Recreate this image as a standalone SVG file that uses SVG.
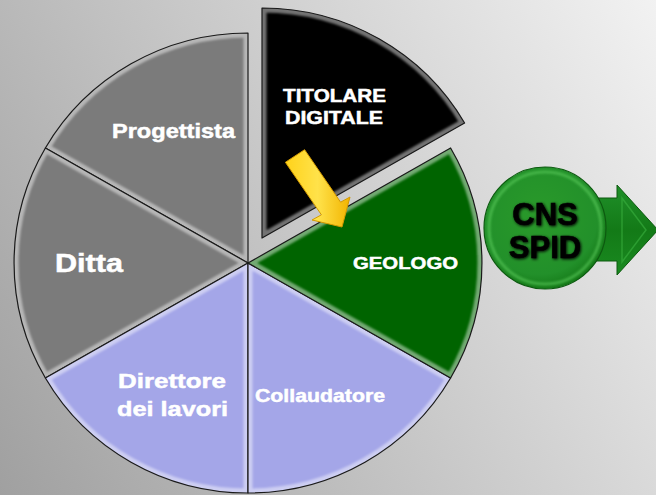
<svg xmlns="http://www.w3.org/2000/svg" width="656" height="495" viewBox="0 0 656 495">
  <defs>
    <linearGradient id="bg" gradientUnits="userSpaceOnUse" x1="0" y1="495" x2="709" y2="92">
      <stop offset="0" stop-color="#a0a0a0"/>
      <stop offset="1" stop-color="#f2f2f2"/>
    </linearGradient>
    <radialGradient id="cnsFill" cx="0.45" cy="0.4" r="0.6">
      <stop offset="0" stop-color="#2a9a2a"/>
      <stop offset="0.8" stop-color="#22902a"/>
      <stop offset="1" stop-color="#157a18"/>
    </radialGradient>
    <linearGradient id="arrowG" x1="0" y1="0" x2="0" y2="1">
      <stop offset="0" stop-color="#20902a"/>
      <stop offset="0.5" stop-color="#137a17"/>
      <stop offset="1" stop-color="#1a8a20"/>
    </linearGradient>
    <linearGradient id="yellowG" x1="0" y1="0" x2="1" y2="0">
      <stop offset="0" stop-color="#ffd21a"/>
      <stop offset="0.5" stop-color="#ffe24a"/>
      <stop offset="1" stop-color="#f2b400"/>
    </linearGradient>
    <filter id="soft" x="-10%" y="-10%" width="120%" height="120%">
      <feGaussianBlur stdDeviation="1.3"/>
    </filter>
    <filter id="glow" x="-20%" y="-20%" width="140%" height="140%">
      <feGaussianBlur in="SourceAlpha" stdDeviation="1.5" result="b"/>
      <feOffset dx="1" dy="1" in="b" result="o"/>
      <feMerge><feMergeNode in="o"/><feMergeNode in="SourceGraphic"/></feMerge>
    </filter>
    <path id="sProg" d="M248,263 L45.4,148 A234,230 0 0 1 248,33 Z"/>
    <path id="sDitta" d="M248,263 L45.4,378 A234,230 0 0 1 45.4,148 Z"/>
    <path id="sDir" d="M248,263 L248,493 A234,230 0 0 1 45.4,378 Z"/>
    <path id="sColl" d="M248,263 L450.6,378 A234,230 0 0 1 248,493 Z"/>
    <path id="sGeo" d="M248,263 L450.6,148 A234,230 0 0 1 450.6,378 Z"/>
    <path id="sTit" d="M262,238 L262,8 A234,230 0 0 1 464.6,123 Z"/>
    <clipPath id="cProg"><use href="#sProg"/></clipPath>
    <clipPath id="cDitta"><use href="#sDitta"/></clipPath>
    <clipPath id="cDir"><use href="#sDir"/></clipPath>
    <clipPath id="cColl"><use href="#sColl"/></clipPath>
    <clipPath id="cGeo"><use href="#sGeo"/></clipPath>
    <clipPath id="cTit"><use href="#sTit"/></clipPath>
    <style>
      .edge { fill: none; stroke: #1a1a1a; stroke-width: 1.2; stroke-linejoin: round; }
      .bevel { fill: none; stroke: #ffffff; stroke-width: 9; stroke-opacity: 0.45; filter: url(#soft); }
      .lbl { font-family: "Liberation Sans", Arial, sans-serif; font-weight: bold; fill: #ffffff; stroke: #ffffff; stroke-width: 0.5; }
      .cns { font-family: "Liberation Sans", Arial, sans-serif; font-weight: bold; fill: #000000; stroke: #000000; stroke-width: 0.6; font-size: 31px; text-anchor: middle; }
    </style>
  </defs>

  <rect x="0" y="0" width="656" height="495" fill="url(#bg)"/>

  <g id="node-progettista">
    <use href="#sProg" fill="#7b7b7b"/>
    <g clip-path="url(#cProg)"><use href="#sProg" class="bevel"/></g>
    <use href="#sProg" class="edge"/>
    <text class="lbl" x="112" y="138" font-size="20.5" textLength="123" lengthAdjust="spacingAndGlyphs">Progettista</text>
  </g>

  <g id="node-ditta">
    <use href="#sDitta" fill="#7b7b7b"/>
    <g clip-path="url(#cDitta)"><use href="#sDitta" class="bevel"/></g>
    <use href="#sDitta" class="edge"/>
    <text class="lbl" x="55" y="272" font-size="25" textLength="68" lengthAdjust="spacingAndGlyphs">Ditta</text>
  </g>

  <g id="node-direttore">
    <use href="#sDir" fill="#a4a6e8"/>
    <g clip-path="url(#cDir)"><use href="#sDir" class="bevel"/></g>
    <use href="#sDir" class="edge"/>
    <text class="lbl" x="118" y="388" font-size="21" textLength="108" lengthAdjust="spacingAndGlyphs">Direttore</text>
    <text class="lbl" x="117" y="416" font-size="21" textLength="111" lengthAdjust="spacingAndGlyphs">dei lavori</text>
  </g>

  <g id="node-collaudatore">
    <use href="#sColl" fill="#a4a6e8"/>
    <g clip-path="url(#cColl)"><use href="#sColl" class="bevel"/></g>
    <use href="#sColl" class="edge"/>
    <text class="lbl" x="255" y="402" font-size="19" textLength="130" lengthAdjust="spacingAndGlyphs">Collaudatore</text>
  </g>

  <g id="node-geologo">
    <use href="#sGeo" fill="#006400"/>
    <g clip-path="url(#cGeo)"><use href="#sGeo" class="bevel" stroke-opacity="0.35"/></g>
    <use href="#sGeo" class="edge"/>
    <text class="lbl" x="353" y="269" font-size="17" textLength="105" lengthAdjust="spacingAndGlyphs">GEOLOGO</text>
  </g>

  <g id="node-titolare">
    <use href="#sTit" fill="#000000"/>
    <g clip-path="url(#cTit)"><use href="#sTit" class="bevel" stroke-opacity="0.55"/></g>
    <use href="#sTit" class="edge"/>
    <text class="lbl" x="283" y="102" font-size="18.5" textLength="103" lengthAdjust="spacingAndGlyphs">TITOLARE</text>
    <text class="lbl" x="285" y="124" font-size="18.5" textLength="98" lengthAdjust="spacingAndGlyphs">DIGITALE</text>
  </g>

  <g id="node-cns-spid">
    <polygon points="592,198 617,198 617,185 658,230 617,275 617,261 592,261" fill="url(#arrowG)" stroke="#0c5a0e" stroke-width="1"/>
    <polygon points="622,198 646,230 622,262" fill="none" stroke="#3ab040" stroke-width="1.5" stroke-opacity="0.6"/>
    <circle cx="545" cy="228" r="61" fill="url(#cnsFill)" stroke="#0d5a10" stroke-width="1.2"/>
    <circle cx="545" cy="228" r="56" fill="none" stroke="#5fd05f" stroke-width="3" stroke-opacity="0.55" filter="url(#soft)"/>
    <g filter="url(#glow)">
      <text class="cns" x="545" y="225">CNS</text>
      <text class="cns" x="545" y="258">SPID</text>
    </g>
  </g>

  <g id="connectors">
    <polygon points="285.4,162.3 304.6,149.7 340.6,202.2 350,197 342,227 312,220 321.4,214.8" fill="url(#yellowG)" stroke="#d49a00" stroke-width="1" stroke-linejoin="round"/>
  </g>
</svg>
